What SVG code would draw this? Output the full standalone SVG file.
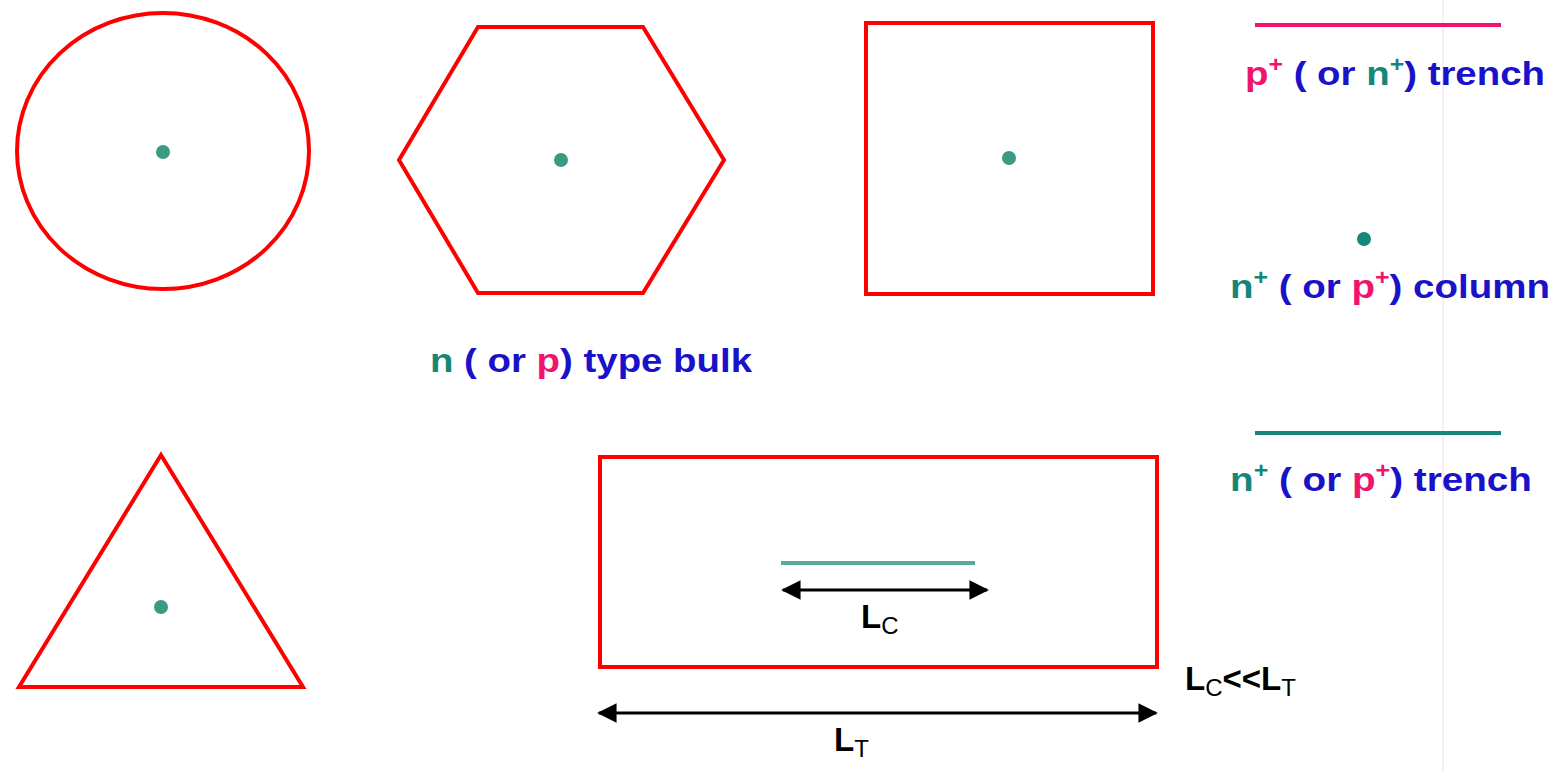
<svg xmlns="http://www.w3.org/2000/svg" width="1565" height="772" viewBox="0 0 1565 772">
<style>
.shape{fill:none;stroke:#ff0000;stroke-width:4;stroke-linejoin:miter}
.dot{fill:#3a9a84}
.t{font-family:"Liberation Sans",Arial,sans-serif;font-weight:bold;font-size:34px;fill:#1a12c8}
.teal{fill:#14877a}
.mag{fill:#f0146e}
.sup{font-size:22px}
.lab{font-family:"Liberation Sans",Arial,sans-serif;font-weight:bold;font-size:33px;fill:#000}
.sub{font-weight:normal;font-size:24px}
.dim{stroke:#000;stroke-width:3;fill:none}
</style>
<defs>
<marker id="ah" viewBox="0 0 10 10" refX="9" refY="5" markerWidth="6.5" markerHeight="6.5" markerUnits="strokeWidth" orient="auto-start-reverse">
<path d="M0,0 L10,5 L0,10 Z" fill="#000"/>
</marker>
</defs>
<rect width="1565" height="772" fill="#fff"/>
<line x1="1443" y1="0" x2="1443" y2="772" stroke="#f6d8f2" stroke-width="1"/>
<g id="circle-cell">
<ellipse class="shape" cx="163" cy="151" rx="146" ry="138"/>
<circle class="dot" cx="163" cy="152" r="7"/>
</g>
<g id="hexagon-cell">
<polygon class="shape" points="478,27 643,27 724,160 643,293 478,293 399,160"/>
<circle class="dot" cx="561" cy="160" r="7"/>
</g>
<g id="square-cell">
<rect class="shape" x="866" y="23" width="287" height="271"/>
<circle class="dot" cx="1009" cy="158" r="7"/>
</g>
<g id="triangle-cell">
<polygon class="shape" points="161,455 19,687 303,687"/>
<circle class="dot" cx="161" cy="607" r="7"/>
</g>
<g id="stripe-cell">
<rect class="shape" x="600" y="457" width="557" height="210"/>
<line x1="781" y1="563" x2="975" y2="563" stroke="#5aa898" stroke-width="4"/>
</g>
<g id="bulk-label">
<text class="t" x="430" y="372" textLength="322" lengthAdjust="spacingAndGlyphs"><tspan class="teal">n</tspan> ( or <tspan class="mag">p</tspan>) type bulk</text>
</g>
<g id="legend-p-trench">
<line x1="1255" y1="25" x2="1501" y2="25" stroke="#f0146e" stroke-width="4"/>
<text class="t" x="1245" y="85" textLength="300" lengthAdjust="spacingAndGlyphs"><tspan class="mag">p</tspan><tspan class="mag sup" dy="-13">+</tspan><tspan dy="13"> ( or </tspan><tspan class="teal">n</tspan><tspan class="teal sup" dy="-13">+</tspan><tspan dy="13">) trench</tspan></text>
</g>
<g id="legend-column">
<circle cx="1364" cy="239" r="7" fill="#14877a"/>
<text class="t" x="1230" y="298" textLength="320" lengthAdjust="spacingAndGlyphs"><tspan class="teal">n</tspan><tspan class="teal sup" dy="-13">+</tspan><tspan dy="13"> ( or </tspan><tspan class="mag">p</tspan><tspan class="mag sup" dy="-13">+</tspan><tspan dy="13">) column</tspan></text>
</g>
<g id="legend-n-trench">
<line x1="1255" y1="433" x2="1501" y2="433" stroke="#14877a" stroke-width="4"/>
<text class="t" x="1230" y="491" textLength="302" lengthAdjust="spacingAndGlyphs"><tspan class="teal">n</tspan><tspan class="teal sup" dy="-13">+</tspan><tspan dy="13"> ( or </tspan><tspan class="mag">p</tspan><tspan class="mag sup" dy="-13">+</tspan><tspan dy="13">) trench</tspan></text>
</g>
<g id="connectors">
<line class="dim" x1="783" y1="590" x2="987" y2="590" marker-start="url(#ah)" marker-end="url(#ah)"/>
<line class="dim" x1="599" y1="713" x2="1156" y2="713" marker-start="url(#ah)" marker-end="url(#ah)"/>
</g>
<g id="labels">
<text class="lab" x="861" y="628">L<tspan class="sub" dy="6">C</tspan></text>
<text class="lab" x="834" y="751">L<tspan class="sub" dy="6">T</tspan></text>
<text class="lab" x="1185" y="690">L<tspan class="sub" dy="6">C</tspan><tspan dy="-6">&lt;&lt;L</tspan><tspan class="sub" dy="6">T</tspan></text>
</g>
</svg>
